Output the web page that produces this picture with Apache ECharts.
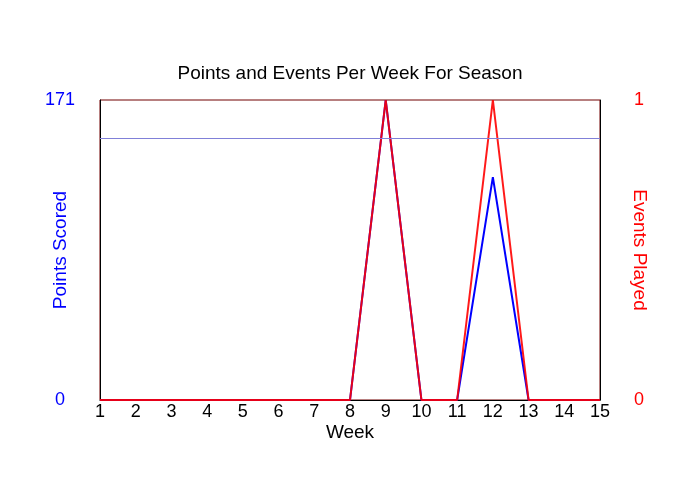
<!DOCTYPE html>
<html>
<head>
<meta charset="utf-8">
<script src="https://cdn.jsdelivr.net/npm/echarts@6/dist/echarts.min.js"></script>
<style>
html, body { margin: 0; padding: 0; background: #fff; }
#container { width: 700px; height: 500px; }
</style>
</head>
<body>
<div id="container"></div>
<script>
var weeks = ['1','2','3','4','5','6','7','8','9','10','11','12','13','14','15'];
var pointsScored = [0, 0, 0, 0, 0, 0, 0, 0, 171, 0, 0, 127, 0, 0, 0];
var eventsPlayed = [0, 0, 0, 0, 0, 0, 0, 0, 1, 0, 0, 1, 0, 0, 0];
var pointsMax = 171;
var pointsRef = 149;   // purple reference line
var eventsMax = 1;

var dom = document.getElementById("container");
var myChart = echarts.init(dom);
var font = 'Liberation Sans, Arial, sans-serif';

var option = {
    animation: false,
    title: {
        text: 'Points and Events Per Week For Season',
        left: 'center',
        top: 59,
        textStyle: { fontFamily: font, fontSize: 19, fontWeight: 'normal', color: '#000' }
    },
    grid: {
        left: 100,
        right: 100,
        top: 100,
        bottom: 100,
        show: true,
        borderColor: '#700000',
        borderWidth: 1
    },
    xAxis: {
        type: 'category',
        data: weeks,
        boundaryGap: false,
        name: 'Week',
        nameLocation: 'middle',
        nameGap: 23,
        nameMoveOverlap: false,
        nameTextStyle: { fontFamily: font, fontSize: 19, color: '#000' },
        axisLine: { lineStyle: { color: '#000', width: 1 } },
        axisTick: { show: false },
        axisLabel: { fontFamily: font, fontSize: 18, color: '#000', margin: 3, interval: 0 },
        splitLine: { show: false }
    },
    yAxis: [
        {
            type: 'value',
            min: 0,
            max: pointsMax,
            interval: pointsMax,
            name: 'Points Scored',
            nameLocation: 'middle',
            nameGap: 30,
            nameMoveOverlap: false,
            nameTextStyle: { fontFamily: font, fontSize: 19, color: '#0000ff' },
            axisLine: { show: true, lineStyle: { color: '#000' } },
            axisTick: { show: false },
            axisLabel: { fontFamily: font, fontSize: 18, color: '#0000ff', margin: 40, align: 'center' },
            splitLine: { show: false }
        },
        {
            type: 'value',
            min: 0,
            max: eventsMax,
            interval: eventsMax,
            position: 'right',
            name: 'Events Played',
            nameLocation: 'middle',
            nameGap: 30,
            nameRotate: -90,
            nameMoveOverlap: false,
            nameTextStyle: { fontFamily: font, fontSize: 19, color: '#ff0000' },
            axisLine: { show: true, lineStyle: { color: '#000' } },
            axisTick: { show: false },
            axisLabel: { fontFamily: font, fontSize: 18, color: '#ff0000', margin: 39, align: 'center' },
            splitLine: { show: false }
        }
    ],
    series: [
        {
            name: 'Points Scored',
            type: 'line',
            yAxisIndex: 0,
            data: pointsScored,
            symbol: 'none',
            lineStyle: { color: '#0000ff', width: 2 },
            itemStyle: { color: '#0000ff' },
            markLine: {
                silent: true,
                symbol: 'none',
                label: { show: false },
                lineStyle: { color: '#8080d8', width: 1, type: 'solid' },
                data: [{ yAxis: pointsRef }]
            }
        },
        {
            name: 'Events Played',
            type: 'line',
            yAxisIndex: 1,
            data: eventsPlayed,
            symbol: 'none',
            lineStyle: { color: '#ff0000', width: 2, opacity: 0.9 },
            itemStyle: { color: '#ff0000' }
        }
    ]
};
if (option && typeof option === "object") {
    myChart.setOption(option, true);
}
</script>
</body>
</html>
